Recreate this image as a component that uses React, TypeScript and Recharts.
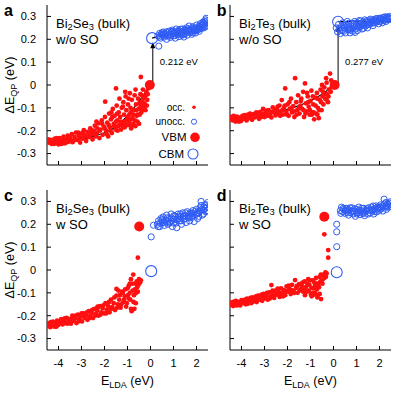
import React from 'react';
import { ComposedChart, Scatter, Line, XAxis, YAxis, ReferenceLine, Legend } from 'recharts';

const FONT = '"Liberation Sans", Arial, Helvetica, sans-serif';
const RED = '#ff1010';
const BLUE = '#2f5cf5';

const xTicks = [-4, -3, -2, -1, 0, 1, 2];
const yTicks = [-0.3, -0.2, -0.1, 0, 0.1, 0.2, 0.3];
const xDomain: [number, number] = [-4.5, 2.5];
const yDomain: [number, number] = [-0.35, 0.35];

const legendLabels = ['occ.', 'unocc.', 'VBM', 'CBM'];
const gapLabels = ['0.212 eV', '0.277 eV'];
const panelLetters = ['a', 'b', 'c', 'd'];

// Panel a: Bi2Se3 w/o SO
const occA = [
  [-4.48,-0.245],[-4.42,-0.252],[-4.36,-0.24],[-4.3,-0.258],[-4.25,-0.247],[-4.18,-0.236],[-4.12,-0.255],[-4.05,-0.243],[-4.0,-0.26],
  [-3.95,-0.232],[-3.9,-0.25],[-3.84,-0.242],[-3.78,-0.226],[-3.72,-0.255],[-3.66,-0.238],[-3.6,-0.222],[-3.55,-0.248],
  [-3.48,-0.232],[-3.42,-0.215],[-3.36,-0.245],[-3.3,-0.228],[-3.24,-0.208],[-3.18,-0.24],[-3.12,-0.222],[-3.06,-0.252],[-3.0,-0.212],
  [-2.95,-0.235],[-2.9,-0.198],[-2.85,-0.222],[-2.8,-0.245],[-2.74,-0.205],[-2.68,-0.228],[-2.62,-0.19],[-2.56,-0.215],[-2.52,-0.238],
  [-2.47,-0.2],[-2.42,-0.178],[-2.38,-0.225],[-2.33,-0.21],[-2.28,-0.168],[-2.22,-0.232],[-2.18,-0.195],[-2.12,-0.155],[-2.08,-0.218],[-2.03,-0.182],
  [-1.98,-0.14],[-1.97,-0.073],[-1.93,-0.2],[-1.88,-0.165],[-1.84,-0.225],[-1.8,-0.125],[-1.76,-0.185],[-1.72,-0.15],[-1.68,-0.21],[-1.64,-0.105],[-1.6,-0.17],[-1.56,-0.135],[-1.52,-0.195],[-1.5,-0.015],
  [-1.47,-0.09],[-1.44,-0.155],[-1.41,-0.18],[-1.38,-0.12],[-1.35,-0.06],[-1.32,-0.14],[-1.28,-0.195],[-1.25,-0.1],[-1.22,-0.165],[-1.18,-0.075],[-1.15,-0.13],[-1.12,-0.185],[-1.08,-0.05],[-1.05,-0.11],[-1.02,-0.155],
  [-0.98,-0.085],[-0.95,-0.175],[-0.92,-0.13],[-0.9,-0.036],[-0.87,-0.1],[-0.84,-0.19],[-0.81,-0.065],[-0.78,-0.145],[-0.75,-0.17],[-0.72,-0.11],[-0.69,-0.045],[-0.66,-0.18],[-0.63,-0.085],[-0.6,-0.135],[-0.57,-0.16],[-0.54,-0.06],[-0.51,-0.105],[-0.5,-0.17],
  [-0.47,-0.13],[-0.44,-0.04],[-0.42,0.035],[-0.4,-0.12],[-0.38,-0.075],[-0.36,-0.11],[-0.33,-0.02],[-0.3,-0.09],[-0.28,-0.1],[-0.25,-0.05],[-0.22,-0.11],[-0.18,-0.03],[-0.14,-0.065],[-0.1,-0.015],
  [-4.45,-0.238],[-4.33,-0.25],[-4.21,-0.258],[-4.09,-0.232],[-3.98,-0.248],[-3.87,-0.258],[-3.75,-0.24],[-3.63,-0.25],[-3.51,-0.238],[-3.39,-0.25],[-3.27,-0.24],[-3.15,-0.208],[-3.03,-0.232],[-2.91,-0.215],[-2.79,-0.225],[-2.67,-0.21],[-2.55,-0.2],[-2.44,-0.215],[-2.31,-0.19],[-2.2,-0.2],[-2.1,-0.17],[-1.99,-0.19],[-1.9,-0.215],[-1.82,-0.175],[-1.74,-0.2],[-1.66,-0.14],[-1.58,-0.18],[-1.5,-0.16],[-1.43,-0.2],[-1.36,-0.175],[-1.29,-0.16],[-1.21,-0.18],[-1.14,-0.16],[-1.06,-0.175],[-0.99,-0.14],[-0.93,-0.16],[-0.86,-0.12],[-0.8,-0.175],[-0.74,-0.13],[-0.68,-0.155],[-0.62,-0.11],[-0.56,-0.13],[-0.49,-0.08],[-0.43,-0.095],[-0.37,-0.045],[-0.31,-0.06],[-0.26,-0.08],[-0.2,-0.045],[-0.16,-0.09],[-0.12,-0.04],[-1.7,-0.12],[-1.45,-0.125],[-1.2,-0.095],[-0.95,-0.06],[-2.35,-0.16],[-0.65,-0.02],[-1.1,-0.03],[-0.85,-0.15],
];
const unoccA = [
  [0.32,0.215],[0.36,0.17],[0.4,0.226],[0.45,0.205],[0.5,0.218],[0.55,0.232],[0.6,0.21],[0.64,0.222],[0.7,0.2],[0.74,0.228],[0.78,0.215],
  [0.82,0.236],[0.86,0.208],[0.9,0.222],[0.95,0.24],[1.0,0.215],[1.04,0.23],[1.08,0.205],[1.12,0.245],[1.16,0.222],[1.2,0.235],[1.24,0.212],[1.28,0.228],[1.32,0.244],[1.36,0.218],[1.4,0.232],[1.45,0.21],[1.48,0.24],
  [1.52,0.226],[1.56,0.25],[1.6,0.218],[1.64,0.238],[1.68,0.258],[1.72,0.23],[1.76,0.245],[1.8,0.222],[1.84,0.255],[1.88,0.236],[1.92,0.248],[1.96,0.228],[2.0,0.262],
  [2.04,0.24],[2.08,0.255],[2.12,0.235],[2.16,0.268],[2.2,0.248],[2.24,0.26],[2.28,0.275],[2.32,0.25],[2.36,0.265],[2.4,0.285],[2.44,0.258],[2.47,0.272],[2.42,0.292],
  [0.5,0.228],[0.9,0.232],[1.1,0.225],[1.3,0.235],[1.5,0.24],[1.7,0.242],[1.9,0.245],[2.1,0.25],[0.6,0.225],[1.0,0.228],[1.2,0.222],[1.4,0.245],[1.6,0.232],[1.8,0.24],[2.0,0.242],[2.2,0.262],[2.35,0.278],
  [0.38,0.21],[0.47,0.222],[0.58,0.215],[0.68,0.232],[0.76,0.22],[0.88,0.215],[0.98,0.235],[1.06,0.218],[1.14,0.23],[1.22,0.24],[1.34,0.225],[1.42,0.22],[1.54,0.235],[1.62,0.245],[1.74,0.235],[1.82,0.25],[1.94,0.238],[2.06,0.25],[2.14,0.245],[2.26,0.252],[2.38,0.255],[2.46,0.28],[2.3,0.27],[1.86,0.228],[1.46,0.225],
];
const fitA = [[-4.5,-0.252],[-4,-0.25],[-3.5,-0.246],[-3,-0.238],[-2.5,-0.226],[-2,-0.209],[-1.5,-0.183],[-1,-0.133],[-0.5,-0.072],[-0.25,-0.036],[-0.03,0]];
const dashA = [[0.07,0.205],[0.5,0.215],[1,0.223],[1.5,0.231],[2,0.245],[2.5,0.262]];
const vbmA = [[-0.03, 0]];
const cbmA = [[0.07, 0.205]];
const arrowA = [[0.1, 0], [0.1, 0.205]];

// Panel b: Bi2Te3 w/o SO
const occB = [
  [-4.48,-0.15],[-4.42,-0.14],[-4.37,-0.155],[-4.32,-0.145],[-4.26,-0.16],[-4.2,-0.138],[-4.14,-0.152],[-4.08,-0.143],[-4.02,-0.158],[-3.96,-0.135],[-3.9,-0.148],[-3.84,-0.14],[-3.78,-0.155],[-3.72,-0.13],[-3.66,-0.145],[-3.6,-0.138],[-3.54,-0.152],
  [-3.48,-0.128],[-3.42,-0.142],[-3.36,-0.12],[-3.3,-0.135],[-3.24,-0.148],[-3.18,-0.118],[-3.12,-0.132],[-3.06,-0.105],[-3.0,-0.14],[-2.94,-0.122],[-2.88,-0.135],[-2.82,-0.11],[-2.76,-0.128],[-2.7,-0.142],[-2.64,-0.098],[-2.58,-0.12],[-2.52,-0.133],
  [-2.46,-0.108],[-2.4,-0.125],[-2.35,-0.09],[-2.3,-0.115],[-2.25,-0.066],[-2.2,-0.13],[-2.15,-0.1],[-2.1,-0.015],[-2.05,-0.118],[-2.0,-0.085],[-1.95,-0.135],[-1.9,-0.105],[-1.85,-0.06],[-1.8,-0.12],[-1.75,-0.092],[-1.7,-0.14],[-1.67,0.03],[-1.62,-0.075],[-1.58,-0.11],[-1.54,-0.045],
  [-1.48,-0.125],[-1.44,-0.09],[-1.4,-0.06],[-1.36,-0.105],[-1.32,-0.03],[-1.28,-0.14],[-1.24,0.007],[-1.2,-0.08],[-1.16,-0.115],[-1.12,-0.05],[-1.08,-0.095],[-1.04,-0.13],[-1.0,-0.07],[-0.96,-0.025],[-0.92,-0.12],[-0.88,-0.085],[-0.84,-0.15],[-0.8,-0.055],[-0.76,-0.125],[-0.72,-0.035],[-0.68,-0.1],[-0.64,-0.145],[-0.6,-0.065],[-0.56,-0.02],[-0.52,-0.11],
  [-0.48,-0.05],[-0.44,-0.085],[-0.4,-0.01],[-0.36,-0.06],[-0.32,0.03],[-0.28,-0.04],[-0.24,-0.075],[-0.2,-0.02],[-0.15,0.05],[-0.12,-0.03],[-0.08,-0.01],
  [-4.45,-0.142],[-4.34,-0.135],[-4.23,-0.148],[-4.11,-0.16],[-3.99,-0.145],[-3.87,-0.132],[-3.75,-0.145],[-3.63,-0.125],[-3.51,-0.14],[-3.39,-0.13],[-3.27,-0.122],[-3.15,-0.14],[-3.03,-0.125],[-2.91,-0.112],[-2.79,-0.135],[-2.67,-0.118],[-2.55,-0.108],[-2.43,-0.095],[-2.32,-0.135],[-2.22,-0.11],[-2.12,-0.09],[-2.02,-0.13],[-1.92,-0.075],[-1.82,-0.1],[-1.72,-0.115],[-1.6,-0.13],[-1.5,-0.1],[-1.42,-0.07],[-1.3,-0.11],[-1.22,-0.125],[-1.1,-0.075],[-1.02,-0.11],[-0.94,-0.13],[-0.86,-0.12],[-0.78,-0.09],[-0.7,-0.13],[-0.62,-0.11],[-0.54,-0.075],[-0.46,-0.03],[-0.38,-0.04],[-0.3,-0.065],[-0.22,-0.05],[-0.1,0.02],[-0.5,0.0],[-0.9,-0.05],[-1.15,-0.035],[-0.3,0.01],[-0.7,-0.06],
];
const unoccB = [
  [0.12,0.25],[0.18,0.232],[0.22,0.265],[0.28,0.24],[0.3,0.225],[0.35,0.258],[0.4,0.272],[0.44,0.235],[0.48,0.25],
  [0.52,0.228],[0.56,0.262],[0.6,0.278],[0.64,0.242],[0.68,0.255],[0.72,0.228],[0.76,0.27],[0.8,0.248],[0.84,0.235],[0.88,0.265],[0.92,0.278],[0.96,0.245],[1.0,0.26],
  [1.04,0.238],[1.08,0.27],[1.12,0.282],[1.16,0.255],[1.2,0.268],[1.24,0.245],[1.28,0.275],[1.32,0.262],[1.36,0.285],[1.4,0.258],[1.44,0.272],[1.48,0.25],
  [1.52,0.28],[1.56,0.265],[1.6,0.288],[1.64,0.27],[1.68,0.278],[1.72,0.26],[1.76,0.285],[1.8,0.272],[1.84,0.29],[1.88,0.276],[1.92,0.282],[1.96,0.268],[2.0,0.292],[2.04,0.278],[2.08,0.286],[2.12,0.272],[2.16,0.295],[2.2,0.282],[2.24,0.29],[2.28,0.278],[2.32,0.298],[2.36,0.285],[2.4,0.293],[2.44,0.3],[2.47,0.288],
  [0.25,0.248],[0.38,0.238],[0.46,0.262],[0.58,0.245],[0.66,0.27],[0.74,0.24],[0.86,0.255],[0.94,0.23],[1.02,0.272],[1.1,0.255],[1.18,0.28],[1.26,0.26],[1.34,0.27],[1.42,0.28],[1.5,0.265],[1.58,0.275],[1.66,0.285],[1.74,0.272],[1.82,0.28],[1.9,0.29],[1.98,0.278],[2.06,0.292],[2.14,0.282],[2.22,0.298],[2.3,0.288],[2.38,0.295],[2.46,0.292],[0.7,0.245],[0.9,0.27],[1.3,0.248],
];
const fitB = [[-4.5,-0.146],[-4,-0.143],[-3.5,-0.138],[-3,-0.13],[-2.5,-0.119],[-2,-0.106],[-1.5,-0.09],[-1,-0.069],[-0.5,-0.04],[0.05,0]];
const dashB = [[0.2,0.277],[2.5,0.277]];
const vbmB = [[0.05, 0]];
const cbmB = [[0.2, 0.277]];
const arrowB = [[0.2, 0], [0.2, 0.277]];

// Panel c: Bi2Se3 w SO
const occC = [
  [-4.48,-0.245],[-4.42,-0.232],[-4.36,-0.25],[-4.3,-0.238],[-4.24,-0.226],[-4.18,-0.248],[-4.12,-0.235],[-4.06,-0.222],[-4.0,-0.24],[-3.94,-0.228],[-3.88,-0.215],[-3.82,-0.238],[-3.76,-0.222],[-3.7,-0.232],[-3.64,-0.21],[-3.58,-0.228],[-3.52,-0.215],[-3.46,-0.235],
  [-3.4,-0.2],[-3.34,-0.222],[-3.28,-0.21],[-3.22,-0.232],[-3.16,-0.195],[-3.1,-0.215],[-3.04,-0.205],[-2.98,-0.225],[-2.92,-0.19],[-2.86,-0.21],[-2.8,-0.198],[-2.74,-0.218],[-2.68,-0.18],[-2.62,-0.2],[-2.56,-0.188],[-2.5,-0.21],
  [-2.44,-0.17],[-2.38,-0.192],[-2.32,-0.178],[-2.26,-0.2],[-2.2,-0.158],[-2.14,-0.185],[-2.08,-0.168],[-2.02,-0.19],[-1.96,-0.145],[-1.9,-0.175],[-1.84,-0.158],[-1.78,-0.185],[-1.72,-0.13],[-1.66,-0.162],[-1.6,-0.145],[-1.54,-0.175],
  [-1.48,-0.112],[-1.42,-0.15],[-1.36,-0.13],[-1.3,-0.165],[-1.24,-0.095],[-1.18,-0.14],[-1.12,-0.115],[-1.06,-0.16],[-1.0,-0.08],[-0.95,-0.125],[-0.9,-0.1],[-0.85,-0.17],[-0.8,-0.06],[-0.75,-0.02],[-0.72,-0.11],[-0.68,-0.085],[-0.64,-0.145],[-0.6,-0.05],[-0.55,-0.095],[-0.5,-0.04],[-0.45,-0.055],[-0.42,-0.045],
  [-0.55,0.054],[-0.82,-0.18],[-0.7,-0.17],[-1.48,-0.083],[-1.2,-0.1],[-0.95,-0.07],[-2.3,-0.16],[-1.8,-0.14],[-3.0,-0.19],
  [-4.45,-0.24],[-4.33,-0.228],[-4.21,-0.24],[-4.09,-0.248],[-3.97,-0.232],[-3.85,-0.225],[-3.73,-0.212],[-3.61,-0.235],[-3.49,-0.222],[-3.37,-0.212],[-3.25,-0.2],[-3.13,-0.225],[-3.01,-0.198],[-2.89,-0.202],[-2.77,-0.185],[-2.65,-0.21],[-2.53,-0.175],[-2.41,-0.2],[-2.29,-0.165],[-2.17,-0.195],[-2.05,-0.155],[-1.93,-0.19],[-1.81,-0.165],[-1.69,-0.17],[-1.57,-0.12],[-1.45,-0.165],[-1.33,-0.11],[-1.27,-0.15],[-1.15,-0.13],[-1.03,-0.145],[-0.98,-0.11],[-0.88,-0.13],[-0.78,-0.09],[-0.74,-0.14],[-0.66,-0.06],[-0.62,-0.1],[-0.58,-0.075],[-0.52,-0.065],[-1.4,-0.09],[-1.1,-0.085],[-0.9,-0.06],[-0.85,-0.04],
];
const unoccC = [
  [0.03,0.145],[0.13,0.196],[0.3,0.2],[0.35,0.215],[0.4,0.19],[0.45,0.225],[0.5,0.205],[0.55,0.232],[0.6,0.195],[0.65,0.218],[0.7,0.24],[0.75,0.2],[0.8,0.225],[0.85,0.21],[0.9,0.245],[0.95,0.19],
  [1.0,0.222],[1.05,0.235],[1.1,0.205],[1.14,0.185],[1.2,0.245],[1.25,0.215],[1.3,0.232],[1.35,0.2],[1.4,0.25],[1.45,0.222],[1.5,0.238],[1.55,0.208],[1.6,0.255],[1.65,0.228],[1.7,0.215],[1.75,0.245],[1.8,0.23],[1.85,0.26],[1.9,0.212],[1.95,0.242],
  [2.0,0.265],[2.05,0.225],[2.1,0.25],[2.15,0.272],[2.2,0.3],[2.25,0.24],[2.3,0.262],[2.35,0.285],[2.4,0.255],[2.45,0.275],[2.48,0.295],
  [0.5,0.22],[0.9,0.228],[1.2,0.225],[1.5,0.225],[1.8,0.248],[2.1,0.235],[2.3,0.245],[0.7,0.212],[1.0,0.205],[1.3,0.245],[1.7,0.235],[2.0,0.245],[2.4,0.27],
  [0.33,0.19],[0.42,0.205],[0.52,0.215],[0.62,0.208],[0.72,0.228],[0.82,0.205],[0.92,0.215],[1.02,0.238],[1.12,0.22],[1.22,0.235],[1.32,0.215],[1.42,0.235],[1.52,0.25],[1.62,0.235],[1.72,0.25],[1.82,0.238],[1.92,0.255],[2.02,0.25],[2.12,0.258],[2.22,0.265],[2.32,0.275],[2.42,0.285],[2.46,0.26],[2.2,0.282],
];
const vbmC = [[-0.49, 0.19]];
const cbmC = [[0.03, -0.005]];

// Panel d: Bi2Te3 w SO
const occD = [
  [-4.48,-0.152],[-4.42,-0.142],[-4.36,-0.158],[-4.3,-0.145],[-4.24,-0.135],[-4.18,-0.15],[-4.12,-0.14],[-4.06,-0.155],[-4.0,-0.132],[-3.94,-0.145],[-3.88,-0.138],[-3.82,-0.15],[-3.76,-0.125],[-3.7,-0.14],[-3.64,-0.13],[-3.58,-0.145],
  [-3.52,-0.12],[-3.46,-0.135],[-3.4,-0.124],[-3.34,-0.14],[-3.28,-0.112],[-3.22,-0.128],[-3.16,-0.118],[-3.1,-0.135],[-3.04,-0.105],[-2.98,-0.122],[-2.92,-0.112],[-2.86,-0.13],[-2.8,-0.098],[-2.74,-0.115],[-2.7,-0.066],[-2.64,-0.105],[-2.58,-0.122],
  [-2.52,-0.09],[-2.46,-0.108],[-2.4,-0.095],[-2.34,-0.118],[-2.28,-0.08],[-2.22,-0.1],[-2.16,-0.088],[-2.1,-0.11],[-2.04,-0.072],[-1.98,-0.095],[-1.92,-0.082],[-1.86,-0.105],[-1.8,-0.065],[-1.74,-0.09],[-1.67,-0.044],[-1.62,-0.078],[-1.56,-0.1],
  [-1.5,-0.062],[-1.44,-0.085],[-1.38,-0.07],[-1.32,-0.095],[-1.26,-0.05],[-1.24,-0.11],[-1.2,-0.075],[-1.14,-0.06],[-1.08,-0.09],[-1.02,-0.045],[-0.96,-0.078],[-0.9,-0.1],[-0.84,-0.055],[-0.8,-0.07],[-0.76,-0.035],[-0.72,-0.085],[-0.66,-0.06],[-0.6,-0.03],
  [-0.54,-0.127],[-0.5,-0.045],[-0.45,-0.02],[-0.4,-0.035],[-0.35,-0.01],[-0.3,-0.015],[-0.95,-0.115],[-0.85,-0.108],[-0.7,-0.12],[-0.6,-0.105],
  [-0.4,0.156],[-0.23,0.087],[-0.23,0.054],
  [-4.45,-0.148],[-4.33,-0.138],[-4.21,-0.155],[-4.09,-0.145],[-3.97,-0.14],[-3.85,-0.13],[-3.73,-0.148],[-3.61,-0.122],[-3.49,-0.138],[-3.37,-0.115],[-3.25,-0.13],[-3.13,-0.108],[-3.01,-0.125],[-2.89,-0.1],[-2.77,-0.125],[-2.65,-0.09],[-2.55,-0.108],[-2.43,-0.082],[-2.31,-0.102],[-2.19,-0.115],[-2.07,-0.092],[-1.95,-0.068],[-1.83,-0.088],[-1.71,-0.1],[-1.59,-0.07],[-1.47,-0.09],[-1.35,-0.055],[-1.29,-0.085],[-1.17,-0.095],[-1.05,-0.065],[-0.99,-0.105],[-0.87,-0.08],[-0.81,-0.1],[-0.75,-0.06],[-0.69,-0.11],[-0.63,-0.075],[-0.57,-0.05],[-0.48,-0.06],[-0.42,-0.025],[-0.33,-0.03],[-1.1,-0.04],[-0.9,-0.045],[-0.55,-0.02],
];
const unoccD = [
  [0.14,0.2],[0.14,0.167],[0.14,0.102],[0.3,0.26],[0.35,0.275],[0.4,0.255],[0.45,0.265],[0.5,0.248],[0.55,0.27],[0.6,0.258],[0.65,0.24],[0.7,0.262],[0.75,0.25],[0.8,0.272],[0.85,0.245],[0.9,0.258],[0.95,0.235],
  [1.0,0.265],[1.05,0.25],[1.1,0.275],[1.15,0.242],[1.2,0.26],[1.25,0.248],[1.3,0.27],[1.35,0.238],[1.4,0.258],[1.45,0.268],[1.5,0.245],[1.55,0.262],[1.6,0.25],[1.65,0.275],[1.7,0.258],[1.75,0.245],[1.8,0.268],[1.85,0.28],[1.9,0.255],[1.95,0.27],
  [2.0,0.262],[2.05,0.285],[2.1,0.27],[2.15,0.258],[2.2,0.31],[2.25,0.278],[2.3,0.265],[2.35,0.288],[2.4,0.275],[2.45,0.292],[2.48,0.28],
  [0.6,0.268],[1.0,0.252],[1.3,0.255],[1.7,0.265],[2.0,0.275],[2.3,0.282],
  [0.32,0.248],[0.42,0.27],[0.52,0.26],[0.62,0.25],[0.72,0.272],[0.82,0.258],[0.92,0.268],[1.02,0.245],[1.12,0.26],[1.22,0.27],[1.32,0.248],[1.42,0.262],[1.52,0.272],[1.62,0.26],[1.72,0.28],[1.82,0.255],[1.92,0.275],[2.02,0.27],[2.12,0.28],[2.22,0.29],[2.32,0.275],[2.42,0.285],[2.46,0.298],[2.28,0.295],
];
const vbmD = [[-0.4, 0.233]];
const cbmD = [[0.14, -0.01]];

const pts = (a: number[][]) => a.map(([x, y]) => ({ x, y }));
const blank = () => '';
const fmtY = (v: number) => (v === 0 ? '0' : v.toFixed(1));
const fmtX = (v: number) => String(v);

const occShape = (p: any) => <circle cx={p.cx} cy={p.cy} r={2.4} fill={RED} />;
const unoccShape = (p: any) => <circle cx={p.cx} cy={p.cy} r={3.1} fill="none" stroke={BLUE} strokeWidth={1} />;
const vbmShape = (p: any) => <circle cx={p.cx} cy={p.cy} r={5} fill={RED} />;
const cbmShape = (p: any) => <circle cx={p.cx} cy={p.cy} r={5.5} fill="none" stroke={BLUE} strokeWidth={1.1} />;

const Sub = ({ children, d = 2.5 }: any) => (
  <tspan dy={d} fontSize="0.72em">{children}</tspan>
);

function makeArrow(text: string) {
  return (p: any) => {
    const { x1, y1, x2, y2 } = p;
    const tipY = y2 + 4;
    return (
      <g>
        <line x1={x1} y1={y1} x2={x2} y2={tipY + 5} stroke="#000" strokeWidth={1} />
        <polygon points={`${x2},${tipY} ${x2 - 2.6},${tipY + 6} ${x2 + 2.6},${tipY + 6}`} fill="#000" />
        <text x={x1 + 7} y={y1 - 20} fontSize={9.5} fontFamily={FONT} fill="#000">{text}</text>
      </g>
    );
  };
}

const LegendA = () => {
  const rows = [9.3, 23.7, 39.3, 56];
  return (
    <svg width={58} height={64} style={{ display: 'block', overflow: 'visible' }}>
      <text x={35} y={rows[0] + 3.5} textAnchor="end" fontSize={10} fontFamily={FONT}>{legendLabels[0]}</text>
      <circle cx={44} cy={rows[0]} r={1.8} fill={RED} />
      <text x={35} y={rows[1] + 3.5} textAnchor="end" fontSize={10} fontFamily={FONT}>{legendLabels[1]}</text>
      <circle cx={44} cy={rows[1]} r={2.6} fill="none" stroke={BLUE} />
      <text x={36.5} y={rows[2] + 4} textAnchor="end" fontSize={11.5} fontFamily={FONT}>{legendLabels[2]}</text>
      <circle cx={45} cy={rows[2]} r={4.8} fill={RED} />
      <text x={34} y={rows[3] + 4} textAnchor="end" fontSize={11.5} fontFamily={FONT}>{legendLabels[3]}</text>
      <circle cx={43} cy={rows[3]} r={5} fill="none" stroke={BLUE} strokeWidth={1.1} />
    </svg>
  );
};

type PanelProps = {
  left: number; top: number;
  occ: number[][]; unocc: number[][]; vbm: number[][]; cbm: number[][];
  fit?: number[][]; dash?: number[][]; arrow?: number[][]; gap?: string;
  showY: boolean; showX: boolean; legend?: boolean;
};

function Panel(pp: PanelProps) {
  const xLabel = (props: any) => {
    const vb = props.viewBox;
    return (
      <text x={vb.x + vb.width / 2} y={vb.y + 35} textAnchor="middle" fontSize={12.5} fontFamily={FONT} fill="#000">
        E<Sub>LDA</Sub><tspan dy={-2.5}> (eV)</tspan>
      </text>
    );
  };
  const yLabel = (props: any) => {
    const vb = props.viewBox;
    const cx = 14;
    const cy = vb.y + vb.height / 2;
    return (
      <text x={cx} y={cy} transform={`rotate(-90, ${cx}, ${cy})`} textAnchor="middle" fontSize={12.5} fontFamily={FONT} fill="#000">
        ΔE<Sub>QP</Sub><tspan dy={-2.5}> (eV)</tspan>
      </text>
    );
  };
  const tickStyle = { fontSize: 11, fill: '#000', fontFamily: FONT };
  return (
    <div style={{ position: 'absolute', left: pp.left, top: pp.top, width: 211, height: 205 }}>
      <ComposedChart width={211} height={205} margin={{ top: 5, right: 3, bottom: 0, left: 0 }}>
        <XAxis xAxisId="b" dataKey="x" type="number" domain={xDomain} ticks={xTicks} allowDataOverflow interval={0}
          orientation="bottom" height={40} tickSize={-4} tickMargin={13} stroke="#000" tick={tickStyle}
          tickFormatter={pp.showX ? fmtX : blank} label={pp.showX ? xLabel : undefined} />
        <XAxis xAxisId="t" dataKey="x" type="number" domain={xDomain} ticks={xTicks} allowDataOverflow interval={0}
          orientation="top" height={0} tickSize={-4} stroke="#000" tick={tickStyle} tickFormatter={blank} />
        <YAxis yAxisId="l" dataKey="y" type="number" domain={yDomain} ticks={yTicks} allowDataOverflow interval={0}
          orientation="left" width={47} tickSize={-4} tickMargin={15} stroke="#000" tick={tickStyle}
          tickFormatter={pp.showY ? fmtY : blank} label={pp.showY ? yLabel : undefined} />
        <YAxis yAxisId="r" dataKey="y" type="number" domain={yDomain} ticks={yTicks} allowDataOverflow interval={0}
          orientation="right" width={0} tickSize={-4} stroke="#000" tick={tickStyle} tickFormatter={blank} />
        <Scatter xAxisId="b" yAxisId="l" data={pts(pp.occ)} shape={occShape} isAnimationActive={false} />
        <Scatter xAxisId="b" yAxisId="l" data={pts(pp.unocc)} shape={unoccShape} isAnimationActive={false} />
        {pp.fit && (
          <Line xAxisId="b" yAxisId="l" data={pts(pp.fit)} dataKey="y" type="monotone" stroke="#000" strokeWidth={1.2} dot={false} isAnimationActive={false} />
        )}
        {pp.dash && (
          <Line xAxisId="b" yAxisId="l" data={pts(pp.dash)} dataKey="y" type="monotone" stroke="#000" strokeWidth={1.2} strokeDasharray="5 3" dot={false} isAnimationActive={false} />
        )}
        {pp.arrow && pp.gap && (
          <ReferenceLine xAxisId="b" yAxisId="l" ifOverflow="visible"
            segment={[{ x: pp.arrow[0][0], y: pp.arrow[0][1] }, { x: pp.arrow[1][0], y: pp.arrow[1][1] }]}
            shape={makeArrow(pp.gap)} />
        )}
        <Scatter xAxisId="b" yAxisId="l" data={pts(pp.vbm)} shape={vbmShape} isAnimationActive={false} />
        <Scatter xAxisId="b" yAxisId="l" data={pts(pp.cbm)} shape={cbmShape} isAnimationActive={false} />
        {pp.legend && (
          <Legend layout="vertical" align="center" verticalAlign="middle" content={LegendA as any}
            wrapperStyle={{ left: 150, top: 98, width: 58, height: 64 }} />
        )}
      </ComposedChart>
    </div>
  );
}

const titles = [
  { letter: panelLetters[0], lx: 4, ly: 16, tx: 56, ty: 27.5, el: 'Se', so: 'w/o SO' },
  { letter: panelLetters[1], lx: 216.7, ly: 16, tx: 239, ty: 27.5, el: 'Te', so: 'w/o SO' },
  { letter: panelLetters[2], lx: 4, ly: 201, tx: 56, ty: 212.5, el: 'Se', so: 'w SO' },
  { letter: panelLetters[3], lx: 216.7, ly: 201, tx: 239, ty: 212.5, el: 'Te', so: 'w SO' },
];

export default function App() {
  return (
    <div style={{ position: 'absolute', left: 0, top: 0, width: 394, height: 393, background: '#fff', overflow: 'hidden' }}>
      <Panel left={0} top={0}
        occ={occA} unocc={unoccA} vbm={vbmA} cbm={cbmA} fit={fitA} dash={dashA} arrow={arrowA} gap={gapLabels[0]}
        showY={true} showX={false} legend={true} />
      <Panel left={183} top={0}
        occ={occB} unocc={unoccB} vbm={vbmB} cbm={cbmB} fit={fitB} dash={dashB} arrow={arrowB} gap={gapLabels[1]}
        showY={false} showX={false} />
      <Panel left={0} top={185}
        occ={occC} unocc={unoccC} vbm={vbmC} cbm={cbmC}
        showY={true} showX={true} />
      <Panel left={183} top={185}
        occ={occD} unocc={unoccD} vbm={vbmD} cbm={cbmD}
        showY={false} showX={true} />
      <svg width={394} height={393} style={{ position: 'absolute', left: 0, top: 0, pointerEvents: 'none' }}>
        {titles.map((t) => (
          <g key={t.letter}>
            <text x={t.lx} y={t.ly} fontSize={16} fontWeight="bold" fontFamily={FONT} fill="#000">{t.letter}</text>
            <text x={t.tx} y={t.ty} fontSize={13} fontFamily={FONT} fill="#000">
              Bi<Sub d={2}>2</Sub><tspan dy={-2}>{t.el}</tspan><Sub d={2}>3</Sub><tspan dy={-2}> (bulk)</tspan>
            </text>
            <text x={t.tx} y={t.ty + 16} fontSize={13} fontFamily={FONT} fill="#000">{t.so}</text>
          </g>
        ))}
      </svg>
    </div>
  );
}
